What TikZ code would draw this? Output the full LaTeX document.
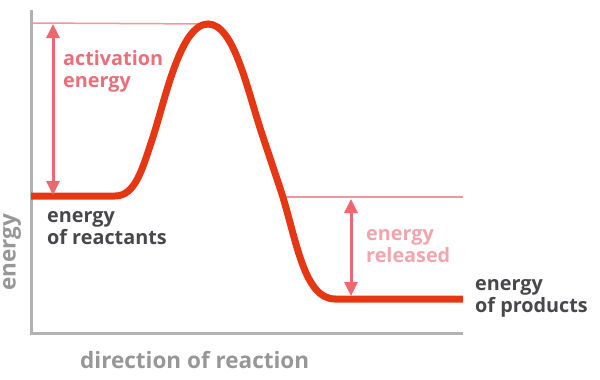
\documentclass[tikz,border=0pt]{standalone}
\usepackage{fontspec}
\setmainfont{Open Sans}
\usetikzlibrary{arrows.meta}
\definecolor{curvered}{RGB}{230,55,20}
\definecolor{arrowred}{RGB}{238,104,112}
\definecolor{thinpink}{RGB}{242,150,158}
\definecolor{labpink}{RGB}{232,112,122}
\definecolor{lightpink}{RGB}{242,165,172}
\definecolor{axisgray}{RGB}{178,178,178}
\definecolor{darktext}{RGB}{72,72,76}
\tikzset{
  lab/.style={font=\bfseries\fontsize{19.8}{22}\selectfont, align=left, anchor=west, inner sep=0pt},
  axlab/.style={font=\bfseries\fontsize{22.5}{24}\selectfont, inner sep=0pt, text=axisgray!85!black},
  dimarrow/.style={arrowred, line width=3pt, {Triangle[length=14pt,width=13pt]}-{Triangle[length=14pt,width=13pt]}},
  guide/.style={thinpink, line width=1.5pt}
}
\begin{document}
\begin{tikzpicture}[x=1pt,y=-1pt]
	\useasboundingbox (0,0) rectangle (600,380);
	% axes
	\coordinate (top) at (31,10);
	\coordinate (orig) at (31,333);
	\coordinate (xend) at (463,333);
	\draw[axisgray, line width=3pt] (top) -- (orig) -- (xend);
	% guide lines
	\coordinate (peak) at (208,24);
	\coordinate (gtop) at (31,23);
	\draw[guide] (gtop) -- (peak);
	\coordinate (rl) at (280,197);
	\coordinate (rr) at (463,197);
	\draw[guide] (rl) -- (rr);
	% energy curve
	\coordinate (react) at (31,196);
	\coordinate (prod) at (463,299);
	\draw[curvered, line width=7pt] (react) -- (115,196)
		.. controls (135,196) and (142,170) .. (152,140)
		.. controls (165,101) and (180,24) .. (peak)
		.. controls (234,24) and (247,89) .. (262,134) -- (280,188)
		.. controls (296,236) and (303,299) .. (335,299) -- (prod);
	% arrows
	\coordinate (a1) at (53,24);
	\coordinate (a2) at (53,195);
	\draw[dimarrow] (a1) -- (a2);
	\coordinate (b1) at (351,199);
	\coordinate (b2) at (351,296);
	\draw[dimarrow] (b1) -- (b2);
	% labels
	\node[lab, labpink] (act) at (63,71) {activation\\energy};
	\node[lab, lightpink] (rel) at (366,246) {energy\\released};
	\node[lab, darktext] (ereact) at (47,228) {energy\\of reactants};
	\node[lab, darktext] (eprod) at (475,298) {energy\\of products};
	\node[axlab, rotate=90] (yl) at (12,252) {energy};
	\node[axlab, anchor=west] (xl) at (80,360) {direction of reaction};
\end{tikzpicture}
\end{document}
